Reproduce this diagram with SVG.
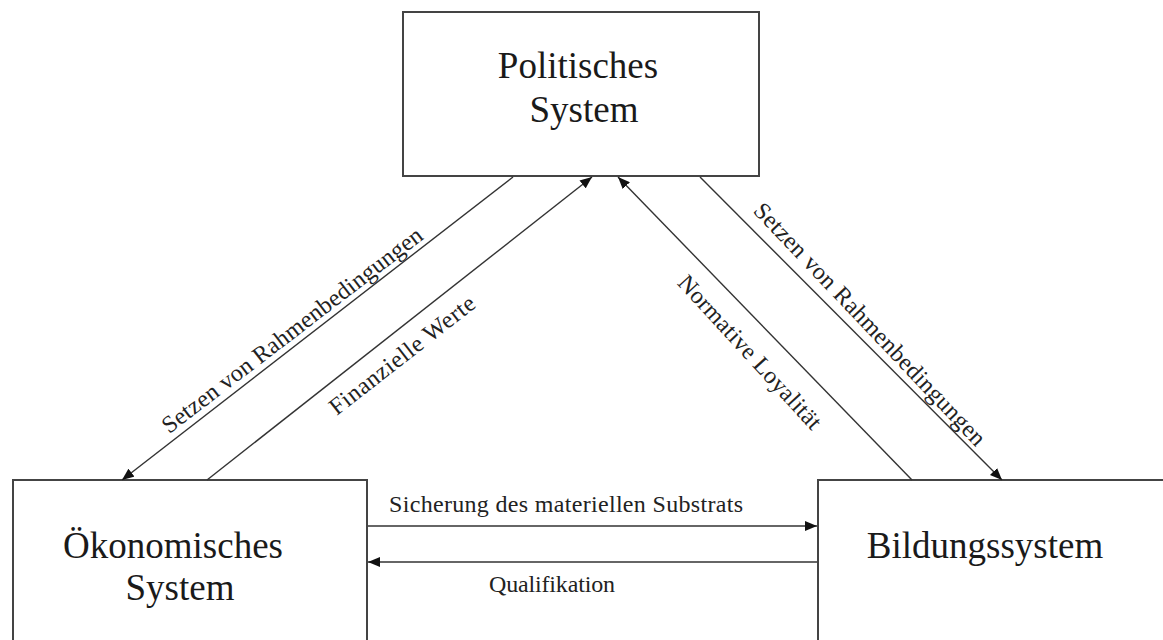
<svg xmlns="http://www.w3.org/2000/svg" width="1163" height="640" viewBox="0 0 1163 640">
<style>
.box{fill:#fff;stroke:#444;stroke-width:2}
.node{font-family:"Liberation Serif","Times New Roman",serif;font-size:37px;fill:#1a1a1a;text-anchor:middle}
.lbl{font-family:"Liberation Serif","Times New Roman",serif;font-size:24px;fill:#222;text-anchor:middle}
.con{stroke:#333;stroke-width:1.4;fill:none}
</style>
<defs>
<marker id="ah" viewBox="0 0 12 10" refX="12" refY="5" markerWidth="12" markerHeight="10" markerUnits="userSpaceOnUse" orient="auto">
<path d="M0,0 L12,5 L0,10 Z" fill="#111"/>
</marker>
</defs>
<rect width="1163" height="640" fill="#fff"/>
<g id="politisches">
<rect class="box" x="403" y="12" width="356" height="164"/>
<text class="node" x="578" y="78">Politisches</text>
<text class="node" x="584" y="122">System</text>
</g>
<g id="oekonomisches">
<rect class="box" x="13" y="480" width="354" height="180"/>
<text class="node" x="173" y="558">Ökonomisches</text>
<text class="node" x="180" y="600">System</text>
</g>
<g id="bildung">
<rect class="box" x="818" y="480" width="360" height="180"/>
<text class="node" x="985" y="558">Bildungssystem</text>
</g>
<g id="connectors">
<line class="con" x1="513" y1="177" x2="122" y2="480" marker-end="url(#ah)"/>
<line class="con" x1="207" y1="480" x2="592" y2="177" marker-end="url(#ah)"/>
<line class="con" x1="912" y1="480" x2="618" y2="177" marker-end="url(#ah)"/>
<line class="con" x1="700" y1="177" x2="1002" y2="480" marker-end="url(#ah)"/>
<line class="con" x1="368" y1="526" x2="817" y2="526" marker-end="url(#ah)"/>
<line class="con" x1="817" y1="562" x2="368" y2="562" marker-end="url(#ah)"/>
<text class="lbl" transform="translate(292,330) rotate(-37.5)" y="8" textLength="322" lengthAdjust="spacing">Setzen von Rahmenbedingungen</text>
<text class="lbl" transform="translate(402,355) rotate(-38)" y="8" textLength="178" lengthAdjust="spacing">Finanzielle Werte</text>
<text class="lbl" transform="translate(750,352) rotate(47.5)" y="8" textLength="200" lengthAdjust="spacing">Normative Loyalität</text>
<text class="lbl" transform="translate(870,324) rotate(46.5)" y="8" textLength="325" lengthAdjust="spacing">Setzen von Rahmenbedingungen</text>
<text class="lbl" x="566" y="512" textLength="354" lengthAdjust="spacing">Sicherung des materiellen Substrats</text>
<text class="lbl" x="552" y="592" textLength="126" lengthAdjust="spacing">Qualifikation</text>
</g>
</svg>
